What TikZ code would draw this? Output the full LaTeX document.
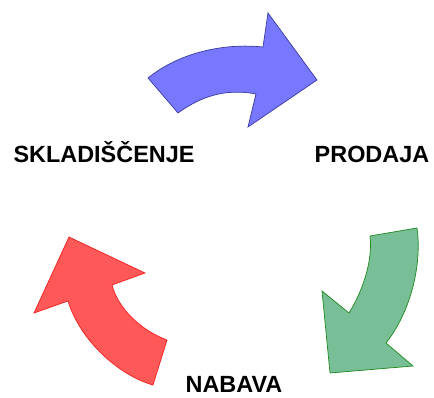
\documentclass[tikz,border=0pt]{standalone}
\usepackage{fontspec}
\setmainfont{Liberation Sans}
\usetikzlibrary{positioning}
\definecolor{blueFill}{HTML}{7878FF}
\definecolor{blueLine}{HTML}{3A3AA0}
\definecolor{greenFill}{HTML}{78BE96}
\definecolor{greenLine}{HTML}{1E8A1E}
\definecolor{redFill}{HTML}{FF5858}
\definecolor{redLine}{HTML}{F02020}
\begin{document}
\begin{tikzpicture}[x=0.03cm, y=-0.03cm,
		phase/.style={font=\bfseries\fontsize{20}{24}\selectfont, inner sep=0pt, anchor=base},
		bigarrow/.style={line width=0.6pt, line join=miter}]
	\useasboundingbox (0,0) rectangle (434,398);
	
	% Labels
	\node[phase] (sklad) at (104,163) {SKLADIŠČENJE};
	\node[phase] (prodaja) at (372,163) {PRODAJA};
	\node[phase] (nabava) at (234,393) {NABAVA};
	
	% Skladiscenje -> Prodaja
	\draw[bigarrow, fill=blueFill, draw=blueLine]
		(148,78) .. controls (180,52) and (225,43) .. (263,47)
		-- (268,13) -- (317,80) -- (248,127) -- (256,94)
		.. controls (225,88) and (200,97) .. (178,113) -- cycle;
	
	% Prodaja -> Nabava
	\draw[bigarrow, fill=greenFill, draw=greenLine]
		(370,236) -- (417,228)
		.. controls (422,262) and (412,310) .. (386,343)
		-- (413,366) -- (330,373) -- (322,291) -- (349,313)
		.. controls (362,292) and (373,262) .. (370,236) -- cycle;
	
	% Nabava -> Skladiscenje
	\draw[bigarrow, fill=redFill, draw=redLine]
		(69,237) -- (145,273) -- (112,285)
		.. controls (118,308) and (140,330) .. (167,340)
		-- (153,385)
		.. controls (118,375) and (80,340) .. (68,301)
		-- (34,313) -- cycle;
\end{tikzpicture}
\end{document}
